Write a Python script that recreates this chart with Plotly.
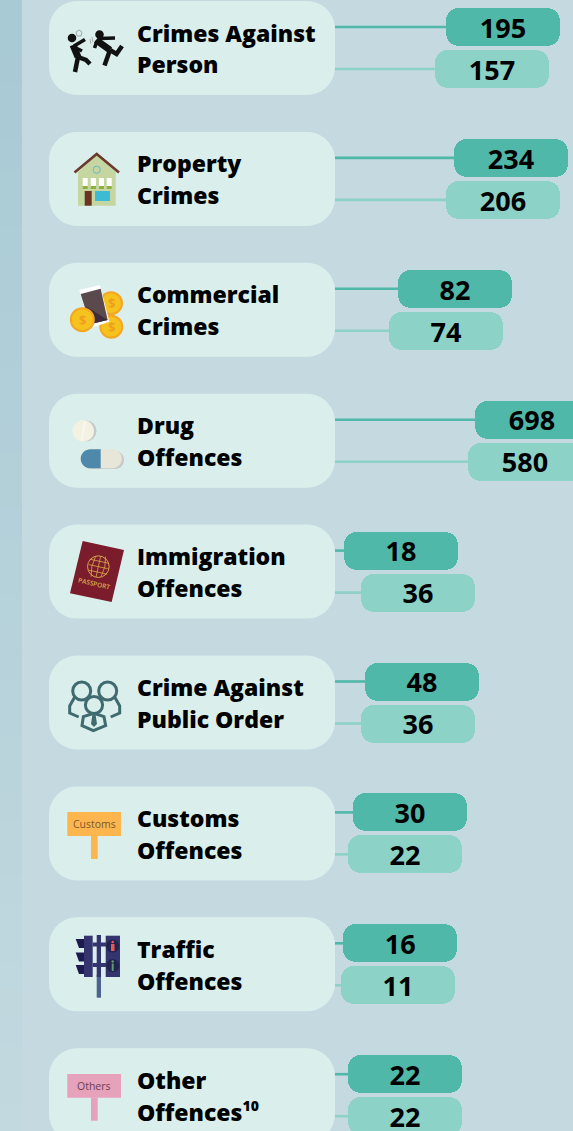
import numpy as np
import plotly.graph_objects as go

W, H = 573, 1131

# ---- data ----
categories = [
    ["Crimes Against", "Person"], ["Property", "Crimes"], ["Commercial", "Crimes"],
    ["Drug", "Offences"], ["Immigration", "Offences"], ["Crime Against", "Public Order"],
    ["Customs", "Offences"], ["Traffic", "Offences"],
    ["Other", "Offences<sup><span style='font-size:14px'>10</span></sup>"],
]
series_a = [195, 234, 82, 698, 18, 48, 30, 16, 22]
series_b = [157, 206, 74, 580, 36, 36, 22, 11, 22]

# the source's axis is compressive: a hand-drawn scale of value -> leader length
scale_domain = [0, 11, 18, 22, 30, 36, 48, 74, 82, 157, 195, 206, 234, 580, 698]
scale_range = [0, 6, 9, 13, 18, 26, 30, 54, 63, 100, 111, 111, 119, 133, 140]

def scale(v):
    return np.interp(v, scale_domain, scale_range)

PILL_W = 114
ROW0, ROW_H = 48, 130.9
OFF = 21 / ROW_H
rows = np.arange(len(categories))
C_A, C_B = "#50b8a9", "#8cd2c6"
BG, CARD = "#c4d9e0", "#daefec"
FONT = "Open Sans"

fig = go.Figure()

for vals, sign, col in ((series_a, -1, C_A), (series_b, 1, C_B)):
    xs = scale(vals)
    lx, ly = [], []
    for r, x in zip(rows, xs):
        lx += [0, x, None]
        ly += [r + sign * OFF, r + sign * OFF, None]
    fig.add_trace(go.Scatter(x=lx, y=ly, mode="lines", line=dict(color=col, width=2.6),
                             hoverinfo="skip", showlegend=False, cliponaxis=False))
    fig.add_trace(go.Bar(
        y=rows + sign * OFF, x=[PILL_W] * len(vals), base=xs, orientation="h",
        width=38 / ROW_H, marker=dict(color=col, cornerradius=13, line=dict(width=0)),
        hoverinfo="skip", showlegend=False))
    fig.add_trace(go.Scatter(
        x=xs + PILL_W / 2, y=rows + sign * OFF + 4 / ROW_H, mode="text",
        text=[str(v) for v in vals], textposition="middle center",
        textfont=dict(family=FONT, size=27, color="#000000", weight=700),
        hoverinfo="skip", showlegend=False, cliponaxis=False))

# ---- decoration helpers (pixel space -> paper) ----
shapes = []
ann = []
px = lambda x: x / W
py = lambda y: 1 - y / H

def path(pts, fill=None, line=None, w=0, close=True):
    d = "M" + " L".join(f"{px(x):.5f},{py(y):.5f}" for x, y in pts) + (" Z" if close else "")
    shapes.append(dict(type="path", xref="paper", yref="paper", path=d, layer="below",
                       fillcolor=fill if fill else "rgba(0,0,0,0)",
                       line=dict(color=line if line else "rgba(0,0,0,0)", width=w)))

def stroke(pts, color, w):
    path(pts, None, color, w, close=False)

def rect(x0, y0, x1, y1, fill):
    shapes.append(dict(type="rect", xref="paper", yref="paper", layer="below",
                       x0=px(x0), x1=px(x1), y0=py(y0), y1=py(y1), fillcolor=fill, line=dict(width=0)))

def circle(cx, cy, r, fill=None, line=None, w=0):
    shapes.append(dict(type="circle", xref="paper", yref="paper", layer="below",
                       x0=px(cx - r), x1=px(cx + r), y0=py(cy - r), y1=py(cy + r),
                       fillcolor=fill if fill else "rgba(0,0,0,0)",
                       line=dict(color=line if line else "rgba(0,0,0,0)", width=w)))

def rrect_pts(x0, y0, x1, y1, r, n=10):
    pts = []
    for cx, cy, a0 in ((x1 - r, y0 + r, -90), (x1 - r, y1 - r, 0), (x0 + r, y1 - r, 90), (x0 + r, y0 + r, 180)):
        for a in np.radians(np.linspace(a0, a0 + 90, n)):
            pts.append((cx + r * np.cos(a), cy + r * np.sin(a)))
    return pts

def text(x, y, s, size, color, family=FONT, weight=400, angle=0, anchor="center"):
    ann.append(dict(xref="paper", yref="paper", x=px(x), y=py(y), text=s, showarrow=False,
                    xanchor=anchor, yanchor="middle", textangle=angle,
                    font=dict(family=family, size=size, color=color, weight=weight)))

# background band, fading towards the bottom
rect(0, 0, W, H, BG)
top = np.array([0xa8, 0xca, 0xd5]); bot = np.array([0xc3, 0xd9, 0xe0])
for i in range(40):
    t = i / 39
    c = (top + (bot - top) * t).astype(int)
    rect(0, i * H / 40, 22, (i + 1) * H / 40 + 1, f"rgb({c[0]},{c[1]},{c[2]})")

# cards and labels
for r, (a, b) in zip(rows, categories):
    cy = ROW0 + ROW_H * r
    path(rrect_pts(49, cy - 47, 335, cy + 47, 28), CARD)
    text(135, cy - 15.5, a, 23, "#000000", weight=800, anchor="left")
    text(135, cy + 16.5, b, 23, "#000000", weight=800, anchor="left")

# icon 1: two figures
K = "#111111"
circle(72, 38, 4.3, K); circle(99.5, 34.5, 4.3, K)
stroke([(73, 45), (78, 57)], K, 7)
stroke([(78, 57), (75, 72)], K, 4.5)
stroke([(78, 57), (86, 60), (90, 64)], K, 4.5)
stroke([(74, 46), (85, 39.5)], K, 3.6)
stroke([(74, 47), (82, 51)], K, 3.6)
stroke([(96, 40), (110, 50)], K, 7)
stroke([(97, 41), (94.5, 48)], K, 3.6)
stroke([(99, 38.5), (115, 38)], K, 3.6)
stroke([(110, 50), (104.5, 65.5)], K, 4.5)
stroke([(110, 50), (116.5, 54), (122, 46)], K, 4.5)
path([(76, 32), (79, 30), (82, 32), (81, 36), (77, 36)], None, "#8a8a8a", 0.7)
stroke([(90, 39), (91, 44)], "#9a9a9a", 0.8)
stroke([(92, 37), (93, 42)], "#9a9a9a", 0.8)

# icon 2: house
path([(78, 172), (96.7, 155), (115.7, 172), (115.7, 205.7), (78, 205.7)], "#c5d6a0")
stroke([(74.5, 172.5), (96.7, 154), (119, 172.5)], "#6b3a2a", 2.6)
circle(96.7, 169.7, 3.6, None, "#5fbcca", 1)
for x0, x1 in ((82.7, 87.7), (90.7, 96), (99, 104), (106.7, 111.7)):
    rect(x0, 178, x1, 186, "#ffffff")
    rect(x0, 186, x1, 189, "#8fb03f")
rect(84.7, 191, 91.7, 205.7, "#6a3322")
rect(95, 191, 110, 201, "#3bbcd4")

# icon 3: phone and coins
for cx, cy, r in ((111, 303.3, 11), (111.3, 326.7, 11)):
    circle(cx, cy, r, "#f6c21e", "#f5a623", 2)
    text(cx, cy, "$", 13, "#ee9f1f", weight=700)
f = lambda pts, ox=40, oy=270: [(ox + x / 3, oy + y / 3) for x, y in pts]
path(f([(118, 60), (180, 45), (208, 155), (150, 175)]), "#ffffff")
path(f([(122, 72), (182, 56), (203, 150), (150, 163)]), "#5a4a4e")
path(f([(140, 110), (203, 150), (150, 163)]), "#3d2d3c")
circle(82.3, 319.7, 11.5, "#f6c21e", "#f5a623", 2)
text(82.3, 319.7, "$", 13, "#ee9f1f", weight=700)

# icon 4: pills
circle(86, 431, 10.5, "#c9c9c9")
circle(83.3, 431, 10.7, "#f3f1e2")
stroke([(85, 421), (81.5, 441)], "#ffffff", 0.8)
path(rrect_pts(83, 451, 124, 469, 9), "#c9c9c9")
path(rrect_pts(80.7, 449.3, 121.7, 468.3, 9.5), "#e8e6d8")
path(rrect_pts(80.7, 449.3, 110, 468.3, 9.5)[20:40] + [(100.7, 449.3), (100.7, 468.3)], "#4e88ab")

# icon 5: passport
path(f([(128, 48), (252, 75), (215, 231), (90, 205)], 40, 525), "#7a1c2b")
GOLD = "#d9a94a"
gx, gy = 40 + 175 / 3, 525 + 125 / 3
circle(gx, gy, 10.8, None, GOLD, 1)
for dx in (-5, 0, 5):
    stroke([(gx + dx + 2.2, gy - 10), (gx + 1.3 * dx, gy), (gx + dx - 2.2, gy + 10)], GOLD, 0.8)
for dy in (-5.5, 0, 5.5):
    stroke([(gx - 9.2 - dy * .1, gy + dy - 2), (gx + 9.4 - dy * .1, gy + dy + 2)], GOLD, 0.8)
text(40 + 163 / 3, 525 + 175 / 3, "PASSPORT", 6.5, GOLD, angle=13, weight=600)

# icon 6: people
P = "#3f6b70"
for hx, sgn in ((81.7, -1), (107.7, 1)):
    stroke([(hx + sgn * 7, 697), (hx + sgn * 12, 706), (hx + sgn * 12, 713), (hx + sgn * 3, 717)], P, 3)
    circle(hx, 691, 9, CARD, P, 3)
path(f([(130, 575), (126, 602), (160, 617), (197, 602), (192, 575), (162, 565)], 40, 525), CARD, P, 3)
circle(94, 705, 8.6, CARD, P, 3)
path([(92.5, 714), (95.5, 714), (97, 724), (94, 727), (91, 724)], P)

# icon 7 & 9: signs
rect(67.3, 812, 121, 836, "#fdb64e"); rect(91, 836, 97.7, 859, "#fdb64e")
text(94, 824, "Customs", 10.5, "#7c5a2c")
rect(67.3, 1074, 121, 1097.7, "#e6a2ba"); rect(91, 1097.7, 97.7, 1120.7, "#e6a2ba")
text(94, 1086, "Others", 10.5, "#6c4050")

# icon 8: traffic light
N = "#34346f"
rect(96.7, 975, 101, 997.7, "#4c6390")
rect(96.7, 935, 101, 977, N)
rect(84, 935.7, 92.7, 977, N)
rect(92.7, 942.5, 106, 946.5, N); rect(92.7, 963, 106, 967, N)
for y0 in (939, 952.5, 965):
    path([(75.7, y0), (84, y0), (84, y0 + 9), (79, y0 + 9)], "#1c1a50")
rect(105.7, 935.7, 120, 977, N)
circle(112.7, 946, 6.6, "#232350"); circle(112.7, 965.7, 6.6, "#232350")
rect(111, 944, 114.5, 951, "#e85a50"); circle(112.7, 942, 1.3, "#e85a50")
rect(111.7, 963.5, 113.7, 971, "#5e9a70"); circle(112.7, 961.5, 1.2, "#5e9a70")

fig.update_layout(
    width=W, height=H, autosize=False, margin=dict(l=0, r=0, t=0, b=0),
    paper_bgcolor=BG, plot_bgcolor="rgba(0,0,0,0)", barmode="overlay", bargap=0,
    showlegend=False, shapes=shapes, annotations=ann,
    xaxis=dict(range=[-335, W - 335], visible=False, fixedrange=True),
    yaxis=dict(range=[(H - ROW0) / ROW_H, -ROW0 / ROW_H], visible=False, fixedrange=True),
)
fig.write_html("out.html", config=dict(displayModeBar=False),
               post_script="document.documentElement.style.margin='0';document.body.style.margin='0';document.body.style.overflow='hidden';")
